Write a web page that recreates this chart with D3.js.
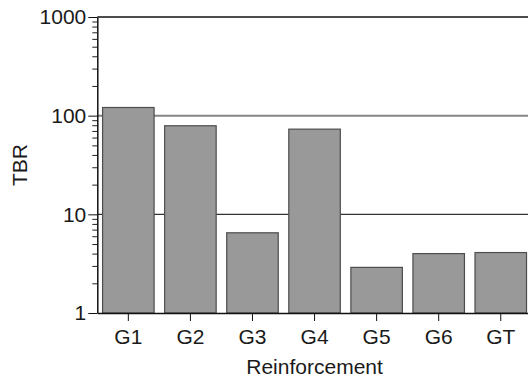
<!DOCTYPE html>
<meta charset="utf-8">
<style>
body { margin: 0; background: #fff; }
text { font-family: "Liberation Sans", Arial, sans-serif; fill: #1a1a1a; }
</style>
<svg width="528" height="378"></svg>
<script src="https://d3js.org/d3.v7.min.js"></script>
<script>
// data
var categories = ["G1", "G2", "G3", "G4", "G5", "G6", "GT"];
var tbr = [121, 79, 6.5, 73, 2.9, 4.0, 4.1];
var yTicks = [1, 10, 100, 1000];

var svg = d3.select("svg");

var x = d3.scaleBand()
    .domain(categories)
    .range([97.3, 531.8])
    .paddingInner(0.17)
    .paddingOuter(0.085);

var y = d3.scaleLog()
    .domain([1, 1000])
    .range([313, 17]);

var xl = 97.3, xr = 531.8;

// grid lines behind the bars
svg.append("line")
    .attr("x1", xl).attr("x2", xr)
    .attr("y1", y(100)).attr("y2", y(100))
    .attr("stroke", "#858585").attr("stroke-width", 2);
svg.append("line")
    .attr("x1", xl).attr("x2", xr)
    .attr("y1", y(10)).attr("y2", y(10))
    .attr("stroke", "#333").attr("stroke-width", 1.2);
svg.append("line")
    .attr("x1", xl).attr("x2", xr)
    .attr("y1", y(1000)).attr("y2", y(1000))
    .attr("stroke", "#111").attr("stroke-width", 1.5);

// bars
svg.append("g")
  .selectAll("rect")
  .data(categories)
  .enter().append("rect")
    .attr("x", function(d) { return x(d); })
    .attr("width", x.bandwidth())
    .attr("y", function(d, i) { return y(tbr[i]); })
    .attr("height", function(d, i) { return y(1) - y(tbr[i]); })
    .attr("fill", "#999999")
    .attr("stroke", "#4d4d4d")
    .attr("stroke-width", 1.2);

// y axis with minor ticks
var minor = [];
for (var dec = 1; dec < 1000; dec *= 10)
  for (var k = 2; k <= 9; k++) minor.push(dec * k);

var yMinor = svg.append("g")
    .attr("transform", "translate(" + xl + ",0)")
    .call(d3.axisLeft(y).tickValues(minor).tickSize(5).tickFormat(""));
yMinor.select(".domain").remove();
yMinor.selectAll("line").attr("stroke", "#222");

var yAxis = svg.append("g")
    .attr("transform", "translate(" + xl + ",0)")
    .call(d3.axisLeft(y).tickValues(yTicks).tickSize(9).tickPadding(2).tickSizeOuter(0)
      .tickFormat(d3.format("d")));
yAxis.select(".domain").attr("stroke", "#111").attr("stroke-width", 1.5);
yAxis.selectAll("line").attr("stroke", "#111");
yAxis.selectAll("text").style("font-size", "21px").attr("fill", "#1a1a1a");

// x axis
var xAxis = svg.append("g")
    .attr("transform", "translate(0," + y(1) + ")")
    .call(d3.axisBottom(x).tickSize(8).tickPadding(8).tickSizeOuter(0));
xAxis.select(".domain").attr("stroke", "#111").attr("stroke-width", 1.5);
xAxis.selectAll("line").attr("stroke", "#111");
xAxis.selectAll("text").style("font-size", "21px").attr("fill", "#1a1a1a");

// axis titles
svg.append("text")
    .attr("x", (xl + xr) / 2)
    .attr("y", 374)
    .attr("text-anchor", "middle")
    .style("font-size", "21px")
    .text("Reinforcement");

svg.append("text")
    .attr("transform", "translate(27," + (y(1) + y(1000)) / 2 + ") rotate(-90)")
    .attr("text-anchor", "middle")
    .style("font-size", "21px")
    .text("TBR");
</script>
